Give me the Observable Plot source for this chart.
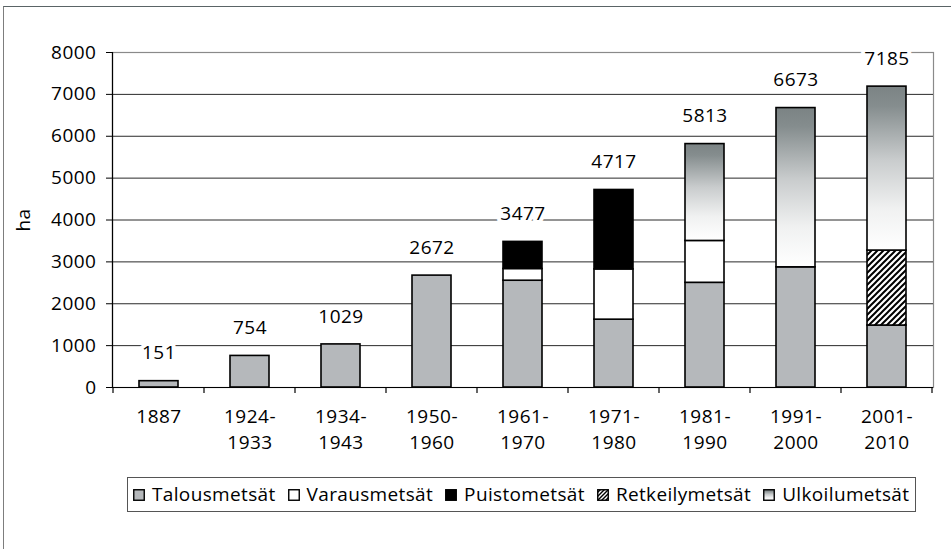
<!DOCTYPE html>
<html>
<head>
<meta charset="utf-8">
<script src="https://cdn.jsdelivr.net/npm/d3@7"></script>
<script src="https://cdn.jsdelivr.net/npm/@observablehq/plot@0.6"></script>
<style>
  html, body { margin: 0; padding: 0; background: #fff; }
  #wrap { position: relative; width: 951px; height: 549px; overflow: hidden; font-family: "Open Sans", sans-serif; }
  #frame { position: absolute; left: 3px; top: 6px; width: 1000px; height: 600px; border-left: 1.5px solid #7d7d7d; border-top: 1.5px solid #5a6466; }
  #chart { position: absolute; left: 0; top: 0; }
  #legend { position: absolute; left: 127px; top: 477px; height: 35px; border: 1px solid #555; background: #fff;
            display: flex; align-items: center; padding: 0 6px 2px 5px; font-size: 19px; letter-spacing: 0.35px; color: #000; white-space: nowrap; box-sizing: border-box; }
  #legend .item { display: flex; align-items: center; margin-right: 12px; }
  #legend .item:last-child { margin-right: 0; }
  #legend svg { margin-right: 7px; margin-top: 2px; }
</style>
</head>
<body>
<div id="wrap">
  <div id="frame"></div>
  <div id="chart"></div>
  <div id="legend"></div>
</div>
<script>
// ---- data ----
const categories = ["1887", "1924-1933", "1934-1943", "1950-1960", "1961-1970", "1971-1980", "1981-1990", "1991-2000", "2001-2010"];
const tickLabels = ["1887", "1924-\n1933", "1934-\n1943", "1950-\n1960", "1961-\n1970", "1971-\n1980", "1981-\n1990", "1991-\n2000", "2001-\n2010"];
const seriesNames = ["Talousmetsät", "Varausmetsät", "Puistometsät", "Retkeilymetsät", "Ulkoilumetsät"];
const talous   = [151, 754, 1029, 2672, 2550, 1620, 2500, 2870, 1480];
const varaus   = [0, 0, 0, 0, 280, 1200, 1000, 0, 0];
const puisto   = [0, 0, 0, 0, 647, 1897, 0, 0, 0];
const retkeily = [0, 0, 0, 0, 0, 0, 0, 0, 1790];
const ulkoilu  = [0, 0, 0, 0, 0, 0, 2313, 3803, 3915];
const totals   = [151, 754, 1029, 2672, 3477, 4717, 5813, 6673, 7185];
const yTicks   = [0, 1000, 2000, 3000, 4000, 5000, 6000, 7000, 8000];

// ---- styles ----
const fillOf = {
  "Talousmetsät": "#b5b8bb",
  "Varausmetsät": "#ffffff",
  "Puistometsät": "#000000",
  "Retkeilymetsät": "url(#hatch)",
  "Ulkoilumetsät": "url(#ulkGrad)"
};
const defsHTML = `
  <linearGradient id="ulkGrad" x1="0" y1="0" x2="0" y2="1">
    <stop offset="0" stop-color="#7b8384"/>
    <stop offset="0.12" stop-color="#858d8e"/>
    <stop offset="0.45" stop-color="#c9cccd"/>
    <stop offset="0.75" stop-color="#f0f1f1"/>
    <stop offset="1" stop-color="#ffffff"/>
  </linearGradient>
  <pattern id="hatch" patternUnits="userSpaceOnUse" width="6" height="6">
    <rect width="6" height="6" fill="#fff"/>
    <path d="M-1,1 l2,-2 M0,6 l6,-6 M5,7 l2,-2" stroke="#000" stroke-width="2"/>
  </pattern>`;

const valuesBySeries = [talous, varaus, puisto, retkeily, ulkoilu];
const rows = seriesNames.flatMap((s, j) =>
  categories.map((c, i) => ({period: c, series: s, value: valuesBySeries[j][i]}))
).filter(d => d.value > 0);
const totalRows = categories.map((c, i) => ({period: c, total: totals[i]}));
const labelOf = new Map(categories.map((c, i) => [c, tickLabels[i]]));

const plot = Plot.plot({
  width: 951,
  height: 470,
  marginLeft: 112,
  marginRight: 18,
  marginTop: 52,
  marginBottom: 83,
  style: {fontFamily: "Open Sans", fontSize: "19px", color: "#000", background: "transparent", letterSpacing: "0.5px"},
  x: {domain: categories, paddingInner: 0.57, paddingOuter: 0.285, label: null, axis: null},
  y: {domain: [0, 8000], label: null, axis: null},
  color: {type: "identity"},
  marks: [
    () => { const g = d3.create("svg:defs"); g.html(defsHTML); return g.node(); },
    Plot.frame({stroke: "#8a8a8a", strokeWidth: 1.2}),
    Plot.gridY(yTicks.filter(t => t > 0 && t < 8000), {stroke: "#2a2a2a", strokeOpacity: 1, strokeWidth: 1}),
    Plot.barY(rows, {x: "period", y: "value", z: "series", order: seriesNames, fill: d => fillOf[d.series], stroke: "#000", strokeWidth: 1.6}),
    Plot.text(totalRows, {x: "period", y: "total", text: d => String(d.total), dy: -28, fill: "#000", stroke: "#fff", strokeWidth: 8, fontSize: 19}),
    Plot.axisY({ticks: yTicks, tickSize: 6, tickPadding: 10, fontSize: 19, tickFormat: d3.format("d"), label: "ha", labelAnchor: "center", labelArrow: "none", labelOffset: 96, stroke: "#000"}),
    Plot.axisX({tickSize: 0, tickPadding: 17, fontSize: 19, tickFormat: d => labelOf.get(d), lineHeight: 1.37}),
    Plot.frame({anchor: "left", stroke: "#000", strokeWidth: 1.2}),
    Plot.ruleY([0], {stroke: "#000", strokeWidth: 1.2})
  ]
});

// category boundary ticks below the x axis, from the plot's own scales
const xs = plot.scale("x"), ys = plot.scale("y");
const y0 = ys.apply(0);
const bounds = categories.map(c => xs.apply(c) + xs.bandwidth / 2 - xs.step / 2);
bounds.push(xs.apply(categories[categories.length - 1]) + xs.bandwidth / 2 + xs.step / 2);
d3.select(plot).append("g").selectAll("line").data(bounds).join("line")
  .attr("x1", d => d).attr("x2", d => d).attr("y1", y0).attr("y2", y0 + 6)
  .attr("stroke", "#000").attr("stroke-width", 1.2);

document.getElementById("chart").appendChild(plot);

// legend
const legend = d3.select("#legend");
seriesNames.forEach((s, i) => {
  const item = legend.append("div").attr("class", "item");
  const sw = item.append("svg").attr("width", 12).attr("height", 12);
  sw.append("defs").html(defsHTML.replace('id="ulkGrad"', `id="ulkGradL${i}"`).replace('id="hatch"', `id="hatchL${i}"`).replace('width="6" height="6">', 'width="4" height="4">').replace('M0,6 l6,-6', 'M0,4 l4,-4').replace('M5,7 l2,-2', 'M3,5 l2,-2').replace('stroke-width="2"', 'stroke-width="1.4"'));
  const f = fillOf[s].replace("#ulkGrad", `#ulkGradL${i}`).replace("#hatch", `#hatchL${i}`);
  sw.append("rect").attr("x", 0.75).attr("y", 0.75).attr("width", 10.5).attr("height", 10.5).attr("fill", f).attr("stroke", "#000").attr("stroke-width", 1.4);
  item.append("span").text(s);
});
</script>
</body>
</html>
